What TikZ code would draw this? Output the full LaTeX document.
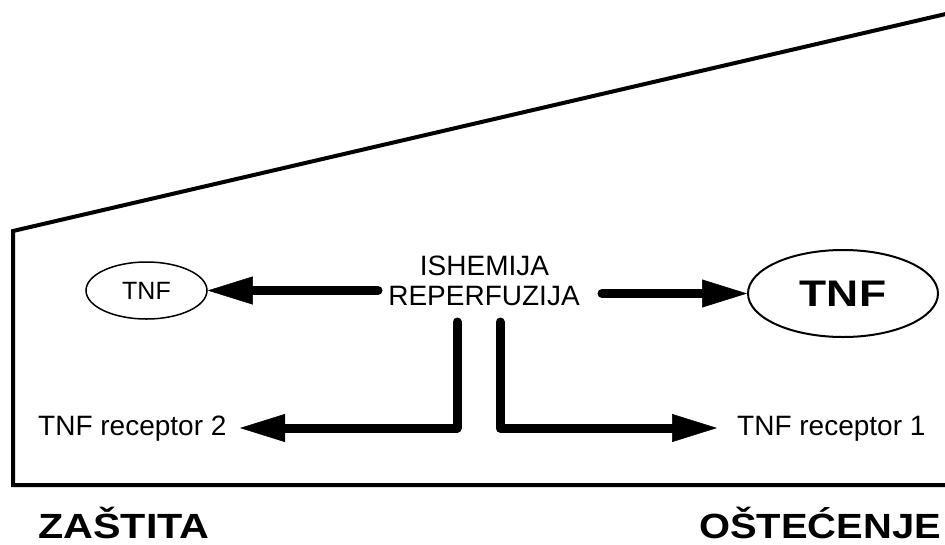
\documentclass[tikz,border=0pt]{standalone}
\usepackage{fontspec}
\setmainfont{Liberation Sans}
\usetikzlibrary{arrows.meta,shapes.geometric}
\begin{document}
\begin{tikzpicture}[x=1pt,y=-1pt,
  lbl/.style={inner sep=0pt, font=\fontsize{28}{30}\selectfont},
  big/.style={inner sep=0pt, font=\fontsize{35}{40}\selectfont\bfseries},
  oval/.style={draw, ellipse, inner sep=0pt},
  fatarrow/.style={line width=9pt, line cap=round, line join=round,
    -{Triangle[length=45pt,width=28pt,line width=0.5pt]}},
  frame/.style={line width=4pt, line join=miter}]
\useasboundingbox (0,0) rectangle (945,544);
% outline
\coordinate (fA) at (950,13);
\coordinate (fB) at (13,231);
\coordinate (fC) at (13,485);
\coordinate (fD) at (950,485);
\draw[frame] (fA) -- (fB) -- (fC) -- (fD);
% texts
\node[lbl, anchor=base] (ish) at (484.5,275) {ISHEMIJA};
\node[lbl, anchor=base] (rep) at (484,305) {REPERFUZIJA};
\node[oval, line width=1.5pt, minimum width=121pt, minimum height=57pt,
  font=\fontsize{25}{28}\selectfont] (tnfL) at (146.5,290.5) {TNF};
\node[oval, line width=2pt, minimum width=190pt, minimum height=87pt,
  font=\fontsize{37}{40}\selectfont\bfseries] (tnfR) at (843,293.5) {\scalebox{1.2}[1]{TNF}};
\node[lbl, anchor=base west] (r2) at (38,435) {TNF receptor 2};
\node[lbl, anchor=base west] (r1) at (737,435) {TNF receptor 1};
\node[big, anchor=base west] (zas) at (38,538) {\scalebox{1.18}[1]{ZAŠTITA}};
\node[big, anchor=base west] (ost) at (699,538) {\scalebox{1.14}[1]{OŠTEĆENJE}};
% connector ends
\coordinate (sL) at (378,290.5);
\coordinate (sR) at (602,293.5);
\coordinate (dL) at (457,322);
\coordinate (dR) at (500,322);
\coordinate (tL) at (240,428);
\coordinate (tR) at (717,428);
% arrows
\draw[fatarrow] (sL) -- (tnfL.east);
\draw[fatarrow] (sR) -- (tnfR.west);
\draw[fatarrow] (dL) |- (tL);
\draw[fatarrow] (dR) |- (tR);
\end{tikzpicture}
\end{document}
